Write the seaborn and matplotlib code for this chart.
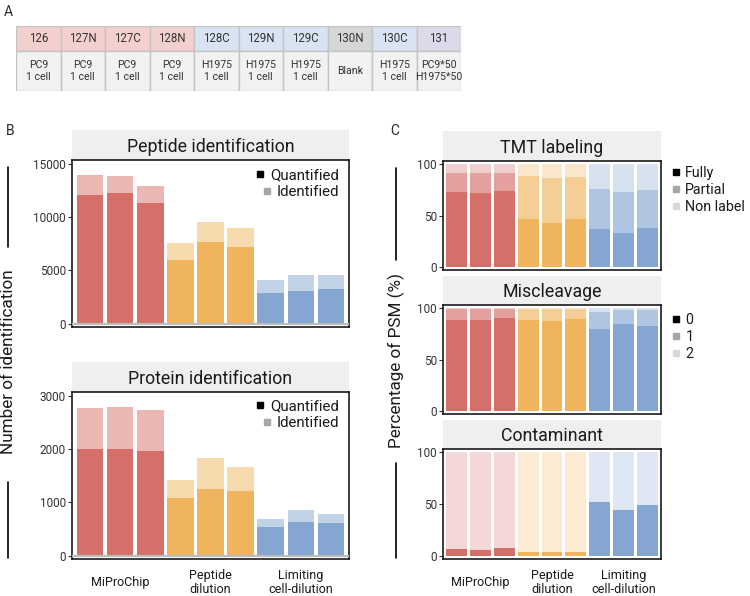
import numpy as np
import pandas as pd
import matplotlib
matplotlib.use("Agg")
import matplotlib.pyplot as plt
import seaborn as sns
from matplotlib.lines import Line2D
from matplotlib.patches import Rectangle
from matplotlib.colors import to_rgb

sns.set_style("white")
plt.rcParams['font.family'] = ['Roboto', 'DejaVu Sans']

# ---- data ----
channels = ['126', '127N', '127C', '128N', '128C', '129N', '129C', '130N', '130C', '131']
channel_samples = ['PC9\n1 cell'] * 4 + ['H1975\n1 cell'] * 3 + ['Blank', 'H1975\n1 cell', 'PC9*50\nH1975*50']
channel_kind = ['pc9'] * 4 + ['h1975'] * 3 + ['blank', 'h1975', 'mix']

groups = ['MiProChip', 'Peptide dilution', 'Limiting cell-dilution']
group_labels = ['MiProChip', 'Peptide\ndilution', 'Limiting\ncell-dilution']
samples = ['M1', 'M2', 'M3', 'P1', 'P2', 'P3', 'L1', 'L2', 'L3']
sample_group = ['MiProChip'] * 3 + ['Peptide dilution'] * 3 + ['Limiting cell-dilution'] * 3

pep_quant = [12100, 12200, 11260, 6000, 7640, 7230, 2920, 3110, 3240]
pep_ident = [13930, 13840, 12900, 7550, 9560, 8990, 4090, 4560, 4530]
prot_quant = [2010, 2010, 1966, 1090, 1252, 1221, 545, 632, 607]
prot_ident = [2780, 2800, 2736, 1421, 1828, 1666, 689, 852, 789]

tmt_fully = [72.4, 71.5, 73.4, 46.8, 43.0, 46.8, 37.2, 33.3, 38.1]
tmt_partial = [18.6, 20.2, 17.6, 41.3, 43.5, 41.0, 38.1, 39.1, 36.3]
tmt_non = [9.0, 8.3, 9.0, 11.9, 13.5, 12.2, 24.7, 27.6, 25.6]

mis_0 = [88.1, 88.1, 90.4, 88.1, 87.2, 89.4, 79.2, 84.6, 82.4]
mis_1 = [11.3, 11.3, 9.0, 11.3, 12.2, 10.0, 16.6, 13.2, 15.4]
mis_2 = [0.6, 0.6, 0.6, 0.6, 0.6, 0.6, 4.2, 2.2, 2.2]

cont_dark = [6.7, 6.1, 7.4, 3.5, 3.5, 3.5, 51.6, 44.2, 48.7]
cont_light = [93.3, 93.9, 92.6, 96.5, 96.5, 96.5, 48.4, 55.8, 51.3]

base = {'MiProChip': '#D46F69', 'Peptide dilution': '#EFB45D', 'Limiting cell-dilution': '#84A6D1'}

W, H = 750, 596
fig = plt.figure(figsize=(7.5, 5.96), dpi=100)


def rect(l, t, r, b):
    return [l / W, 1 - b / H, (r - l) / W, (b - t) / H]


def tint(c, a):
    r = np.array(to_rgb(c))
    return tuple(1 - a * (1 - r))


def strip(l, t, r, b, title):
    s = fig.add_axes(rect(l, t, r, b))
    s.set_facecolor('#EFEFEF')
    for sp in s.spines.values():
        sp.set_visible(False)
    s.set_xticks([])
    s.set_yticks([])
    s.text(0.5, 0.45, title, ha='center', va='center', fontsize=12.8, color='#1a1a1a', transform=s.transAxes)


def stacked(ax, layers, alphas):
    cum = np.cumsum(np.array(layers, dtype=float), axis=0)
    for k in range(len(layers) - 1, -1, -1):
        df = pd.DataFrame({'sample': samples, 'value': cum[k], 'group': sample_group})
        pal = {g: tint(c, alphas[k]) for g, c in base.items()}
        sns.barplot(data=df, x='sample', y='value', hue='group', palette=pal, dodge=False,
                    width=0.88, linewidth=0, saturation=1, legend=False, ax=ax)


def overlay(ax, quant, ident):
    for vals, a in [(ident, 0.5), (quant, 1.0)]:
        df = pd.DataFrame({'sample': samples, 'value': vals, 'group': sample_group})
        pal = {g: tint(c, a) for g, c in base.items()}
        sns.barplot(data=df, x='sample', y='value', hue='group', palette=pal, dodge=False,
                    width=0.88, linewidth=0, saturation=1, legend=False, ax=ax)


def style(ax, ylim, yticks, xlab=False, xlim=(-0.6, 8.6)):
    ax.set_xlim(*xlim)
    ax.set_ylim(*ylim)
    ax.set_yticks(yticks)
    ax.set_xlabel('')
    ax.set_ylabel('')
    for sp in ax.spines.values():
        sp.set_visible(True)
        sp.set_color('#1a1a1a')
        sp.set_linewidth(1.2)
    ax.tick_params(axis='y', length=3, width=0.8, color='#333333', labelsize=8.5,
                   labelcolor='#333333', pad=1.5, left=True)
    if xlab:
        ax.set_xticks([1, 4, 7])
        ax.set_xticklabels(group_labels, fontsize=9, color='#1a1a1a', linespacing=1.1)
        for t in ax.get_xticklabels():
            t.set_va('center')
        ax.tick_params(axis='x', length=0, pad=17)
    else:
        ax.set_xticks([])


def legend(ax, labels, x, y, right=False, size=10.8):
    cols = ['#000000', '#A6A6A6', '#D9D9D9']
    handles = [Line2D([], [], marker='s', ls='', color=cols[i], markersize=4.5) for i in range(len(labels))]
    leg = ax.legend(handles, labels, loc='upper right' if right else 'upper left',
                    bbox_to_anchor=(x / W, 1 - y / H), bbox_transform=fig.transFigure,
                    frameon=False, fontsize=size, labelspacing=0.22, handletextpad=0.3,
                    handlelength=0.7, borderpad=0, borderaxespad=0)
    if right:
        for vp in leg._legend_handle_box.get_children():
            vp.align = 'right'
    for t in leg.get_texts():
        t.set_color('#1a1a1a')


# ---- panel A: TMT channel table ----
ta = fig.add_axes(rect(16, 26, 461, 91))
ta.set_xlim(0, 10)
ta.set_ylim(65, 0)
ta.axis('off')
head_cols = {'pc9': '#F3D0CD', 'h1975': '#D8E4F2', 'blank': '#D6D6D6', 'mix': '#DCDAEA'}
for i, (ch, smp, kind) in enumerate(zip(channels, channel_samples, channel_kind)):
    ta.add_patch(Rectangle((i, 0), 1, 25, facecolor=head_cols[kind], edgecolor='#C4C4C4', lw=1))
    ta.add_patch(Rectangle((i, 25), 1, 40, facecolor='#F2F2F2', edgecolor='#C4C4C4', lw=1))
    ta.text(i + 0.5, 12.5, ch, ha='center', va='center', fontsize=8.3, color='#333333')
    ta.text(i + 0.5, 45, smp, ha='center', va='center', fontsize=7.6, color='#333333', linespacing=1.25)

fig.text(4 / W, 1 - 12 / H, 'A', fontsize=10, va='center', ha='left')
fig.text(6 / W, 1 - 131 / H, 'B', fontsize=10, va='center', ha='left')
fig.text(390 / W, 1 - 131 / H, 'C', fontsize=10, va='center', ha='left')

# ---- panel B ----
strip(72, 130, 349, 160, 'Peptide identification')
ax1 = fig.add_axes(rect(72, 160, 349, 327))
overlay(ax1, pep_quant, pep_ident)
ax1.axhline(0, color='#BDBDBD', lw=1.6, zorder=5)
style(ax1, (-300, 15330), [0, 5000, 10000, 15000])
legend(ax1, ['Quantified', 'Identified'], 339, 168, right=True)

strip(72, 362, 349, 392, 'Protein identification')
ax2 = fig.add_axes(rect(72, 392, 349, 559))
overlay(ax2, prot_quant, prot_ident)
ax2.axhline(0, color='#BDBDBD', lw=1.6, zorder=5)
style(ax2, (-62, 3075), [0, 1000, 2000, 3000], xlab=True)
legend(ax2, ['Quantified', 'Identified'], 339, 399, right=True)

fig.text(9 / W, 1 - 362 / H, 'Number of identification', rotation=90, fontsize=12.3,
         ha='center', va='center', color='#1a1a1a')
for y1, y2 in [(167, 247), (482, 558)]:
    fig.add_artist(Line2D([8 / W, 8 / W], [1 - y1 / H, 1 - y2 / H], color='black', lw=1.2))

# ---- panel C ----
cx = (-0.58, 8.58)
strip(443, 131, 661, 161, 'TMT labeling')
ax3 = fig.add_axes(rect(443, 161, 661, 270))
stacked(ax3, [tmt_fully, tmt_partial, tmt_non], [1.0, 0.65, 0.33])
style(ax3, (-3, 103), [0, 50, 100], xlim=cx)
legend(ax3, ['Fully', 'Partial', 'Non label'], 671, 166, size=10.3)

strip(443, 276, 661, 305, 'Miscleavage')
ax4 = fig.add_axes(rect(443, 305, 661, 414))
stacked(ax4, [mis_0, mis_1, mis_2], [1.0, 0.65, 0.33])
style(ax4, (-3, 103), [0, 50, 100], xlim=cx)
legend(ax4, ['0', '1', '2'], 671, 313, size=10.3)

strip(443, 420, 661, 449, 'Contaminant')
ax5 = fig.add_axes(rect(443, 449, 661, 559))
stacked(ax5, [cont_dark, cont_light], [1.0, 0.27])
style(ax5, (-3, 103), [0, 50, 100], xlab=True, xlim=cx)

fig.text(396 / W, 1 - 361 / H, 'Percentage of PSM (%)', rotation=90, fontsize=12.3,
         ha='center', va='center', color='#1a1a1a')
for y1, y2 in [(168, 260), (463, 558)]:
    fig.add_artist(Line2D([396 / W, 396 / W], [1 - y1 / H, 1 - y2 / H], color='black', lw=1.2))

fig.savefig('out.png', dpi=100)
